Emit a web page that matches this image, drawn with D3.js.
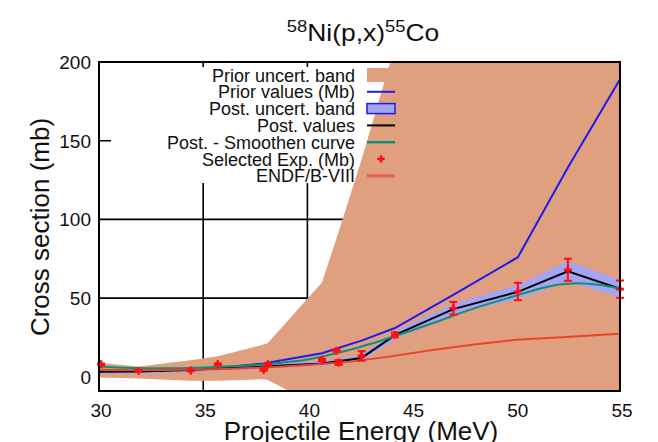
<!DOCTYPE html>
<html>
<head>
<meta charset="utf-8">
<script src="https://cdn.jsdelivr.net/npm/d3@7"></script>
<style>
  body { margin: 0; background: #fff; }
  text { font-family: "Liberation Sans", Arial, sans-serif; fill: #111; }
</style>
</head>
<body>
<div id="chart"></div>
<script>
// energy grid used by the evaluation (prior / posterior)
var energies    = [30, 31.9, 34.4, 35.7, 37.9, 38.1, 40.7, 41.4, 42.6, 44.2, 47, 50.1, 52.5, 55];
var priorValues = [3, 3.2, 4.5, 5.8, 8.5, 9, 15, 18, 23, 31, 52, 76, 133, 189];
var priorUpper  = [9, 6.5, 10.5, 13, 20.5, 21.5, 60, 88, 138, 210, 420, 640, 860, 1100];
var priorLower  = [-0.5, -1, -2.5, -2.5, -1.5, -2, -20, -32, -55, -90, -180, -300, -400, -500];
var postValues  = [3.3, 3.4, 4.4, 5.3, 6.5, 6.8, 8.5, 9.7, 12, 26.5, 43, 54, 67, 56];
var postErr     = [1.5, 1.5, 1.5, 1.5, 1.5, 1.5, 1.5, 1.8, 2, 2.5, 3.5, 4.5, 6.5, 5.5];

// smoothed posterior curve
var smoothE = [30, 32, 34, 36, 38, 40, 42, 44, 46, 48, 50, 51, 52, 53, 54, 55];
var smoothY = [6.5, 5.5, 5.5, 6.5, 8, 11, 17, 25, 34, 43.5, 51.5, 55.5, 58.5, 59.5, 58.5, 56];

// ENDF/B-VIII
var endfE = [30, 32, 34, 36, 38, 40, 42, 44, 46, 48, 50, 52, 55];
var endfY = [4.5, 4.2, 4.5, 5, 6, 7.5, 9.5, 13, 17, 20.5, 23.5, 25, 27.3];

// selected experimental data
var expE   = [30.1, 31.9, 34.4, 35.7, 37.9, 38.1, 40.7, 41.4, 41.5, 42.6, 44.2, 47.0, 50.1, 52.5, 55.0];
var expY   = [8, 3.8, 4, 8, 4.4, 8, 10.8, 16.7, 9.1, 13.3, 26.7, 43.6, 54.2, 68, 55.7];
var expErr = [0.5, 0.5, 0.5, 0.5, 0.5, 0.5, 0.7, 0.7, 1.5, 3, 1.5, 4, 5.5, 7, 5.5];

var xTicks = [30, 35, 40, 45, 50, 55];
var yTicks = [0, 50, 100, 150, 200];
var legendLabels = ["Prior uncert. band", "Prior values (Mb)", "Post. uncert. band", "Post. values",
                    "Post. - Smoothen curve", "Selected Exp. (Mb)", "ENDF/B-VIII"];

var width = 658, height = 442;
var plot = {left: 99, right: 620, top: 62, bottom: 391};

var bandColor = "#e0a080", postColor = "#a4a4f4", priorColor = "#1c1cf0",
    smoothColor = "#109070", expColor = "#ff1010", endfColor = "#e8442c";

var svg = d3.select("#chart").append("svg")
    .attr("width", width)
    .attr("height", height);

var x = d3.scaleLinear().domain([30, 55]).range([plot.left, plot.right]);
var y = d3.scaleLinear().domain([-9, 200]).range([plot.bottom, plot.top]);

svg.append("clipPath").attr("id", "clip")
  .append("rect")
    .attr("x", plot.left).attr("y", plot.top)
    .attr("width", plot.right - plot.left)
    .attr("height", plot.bottom - plot.top);

// grid (sits behind everything)
var grid = svg.append("g").attr("clip-path", "url(#clip)");
grid.selectAll(".vgrid").data(xTicks.slice(1, -1)).enter().append("line")
    .attr("x1", d => x(d)).attr("x2", d => x(d))
    .attr("y1", plot.top).attr("y2", plot.bottom)
    .attr("stroke", "#000").attr("stroke-width", 1.6);
grid.selectAll(".hgrid").data(yTicks.slice(1, -1)).enter().append("line")
    .attr("x1", plot.left).attr("x2", plot.right)
    .attr("y1", d => y(d)).attr("y2", d => y(d))
    .attr("stroke", "#000").attr("stroke-width", 1.6);

// key box is opaque over the grid
svg.append("rect")
    .attr("x", 111).attr("y", 67)
    .attr("width", 287).attr("height", 116)
    .attr("fill", "#fff");

var layer = svg.append("g").attr("clip-path", "url(#clip)");

var grid2 = energies.map(function(e, i) {
    return {e: e, prior: priorValues[i], up: priorUpper[i], lo: priorLower[i],
            post: postValues[i], err: postErr[i]};
});

// prior uncertainty band
layer.append("path").datum(grid2)
    .attr("fill", bandColor)
    .attr("d", d3.area().x(d => x(d.e)).y0(d => y(d.lo)).y1(d => y(d.up)));

// prior values
layer.append("path").datum(grid2)
    .attr("fill", "none").attr("stroke", priorColor).attr("stroke-width", 2)
    .attr("d", d3.line().x(d => x(d.e)).y(d => y(d.prior)));

// posterior band
layer.append("path").datum(grid2)
    .attr("fill", postColor)
    .attr("d", d3.area().x(d => x(d.e)).y0(d => y(d.post - d.err)).y1(d => y(d.post + d.err)));

// posterior values
layer.append("path").datum(grid2)
    .attr("fill", "none").attr("stroke", "#000").attr("stroke-width", 2)
    .attr("d", d3.line().x(d => x(d.e)).y(d => y(d.post)));

// smoothed curve
layer.append("path").datum(smoothE.map((e, i) => [e, smoothY[i]]))
    .attr("fill", "none").attr("stroke", smoothColor).attr("stroke-width", 2)
    .attr("d", d3.line().x(d => x(d[0])).y(d => y(d[1])).curve(d3.curveMonotoneX));

// experimental points with error bars (not clipped)
var exps = expE.map(function(e, i) { return {e: e, v: expY[i], err: expErr[i]}; });
var pts = svg.append("g").selectAll("g").data(exps).enter().append("g")
    .attr("stroke", expColor).attr("stroke-width", 2);
pts.append("line")
    .attr("x1", d => x(d.e)).attr("x2", d => x(d.e))
    .attr("y1", d => y(d.v - d.err)).attr("y2", d => y(d.v + d.err));
pts.append("line")
    .attr("x1", d => x(d.e) - 4).attr("x2", d => x(d.e) + 4)
    .attr("y1", d => y(d.v - d.err)).attr("y2", d => y(d.v - d.err));
pts.append("line")
    .attr("x1", d => x(d.e) - 4).attr("x2", d => x(d.e) + 4)
    .attr("y1", d => y(d.v + d.err)).attr("y2", d => y(d.v + d.err));
pts.append("path")
    .attr("stroke", "none").attr("fill", expColor)
    .attr("transform", d => "translate(" + x(d.e) + "," + y(d.v) + ")")
    .attr("d", d3.symbol().type(d3.symbolCross).size(34));

// ENDF
layer.append("path").datum(endfE.map((e, i) => [e, endfY[i]]))
    .attr("fill", "none").attr("stroke", endfColor).attr("stroke-width", 2)
    .attr("d", d3.line().x(d => x(d[0])).y(d => y(d[1])));

// frame
svg.append("rect")
    .attr("x", plot.left).attr("y", plot.top)
    .attr("width", plot.right - plot.left).attr("height", plot.bottom - plot.top)
    .attr("fill", "none").attr("stroke", "#000").attr("stroke-width", 2);

// tick labels
svg.selectAll(".xt").data(xTicks).enter().append("text")
    .attr("x", d => x(d) + 2).attr("y", 417)
    .attr("text-anchor", "middle").attr("font-size", 19)
    .text(d => d);
svg.selectAll(".yt").data(yTicks).enter().append("text")
    .attr("x", 91).attr("y", d => y(d) + 7)
    .attr("text-anchor", "end").attr("font-size", 19)
    .text(d => d);

// axis titles
svg.append("text")
    .attr("x", 361).attr("y", 440)
    .attr("text-anchor", "middle").attr("font-size", 26)
    .text("Projectile Energy (MeV)");
svg.append("text")
    .attr("transform", "translate(49,227) rotate(-90)")
    .attr("text-anchor", "middle").attr("font-size", 26)
    .text("Cross section (mb)");

// title with superscripts
var title = svg.append("text")
    .attr("transform", "translate(363,41) scale(1.15,1)")
    .attr("text-anchor", "middle").attr("font-size", 23);
title.append("tspan").attr("font-size", 16).attr("dy", -9).text("58");
title.append("tspan").attr("dy", 9).text("Ni(p,x)");
title.append("tspan").attr("font-size", 16).attr("dy", -9).text("55");
title.append("tspan").attr("dy", 9).text("Co");

// legend
var key = svg.append("g");
var rowY = d => 75 + d * 16.8;
key.selectAll("text").data(legendLabels).enter().append("text")
    .attr("x", 355).attr("y", (d, i) => rowY(i) + 6.5)
    .attr("text-anchor", "end").attr("font-size", 18)
    .text(d => d);

var sx0 = 367, sx1 = 395;
key.append("rect").attr("x", sx0).attr("y", rowY(0) - 7).attr("width", sx1 - sx0).attr("height", 14)
    .attr("fill", bandColor);
key.append("line").attr("x1", sx0).attr("x2", sx1).attr("y1", rowY(1)).attr("y2", rowY(1))
    .attr("stroke", priorColor).attr("stroke-width", 2);
key.append("rect").attr("x", sx0).attr("y", rowY(2) - 5).attr("width", sx1 - sx0).attr("height", 10)
    .attr("fill", postColor).attr("stroke", priorColor).attr("stroke-width", 1.5);
key.append("line").attr("x1", sx0).attr("x2", sx1).attr("y1", rowY(3)).attr("y2", rowY(3))
    .attr("stroke", "#000").attr("stroke-width", 2);
key.append("line").attr("x1", sx0).attr("x2", sx1).attr("y1", rowY(4)).attr("y2", rowY(4))
    .attr("stroke", smoothColor).attr("stroke-width", 2.5);
key.append("path").attr("transform", "translate(381," + rowY(5) + ")")
    .attr("fill", expColor).attr("d", d3.symbol().type(d3.symbolCross).size(30));
key.append("line").attr("x1", sx0).attr("x2", sx1).attr("y1", rowY(6)).attr("y2", rowY(6))
    .attr("stroke", "#e86050").attr("stroke-width", 3);
</script>
</body>
</html>
